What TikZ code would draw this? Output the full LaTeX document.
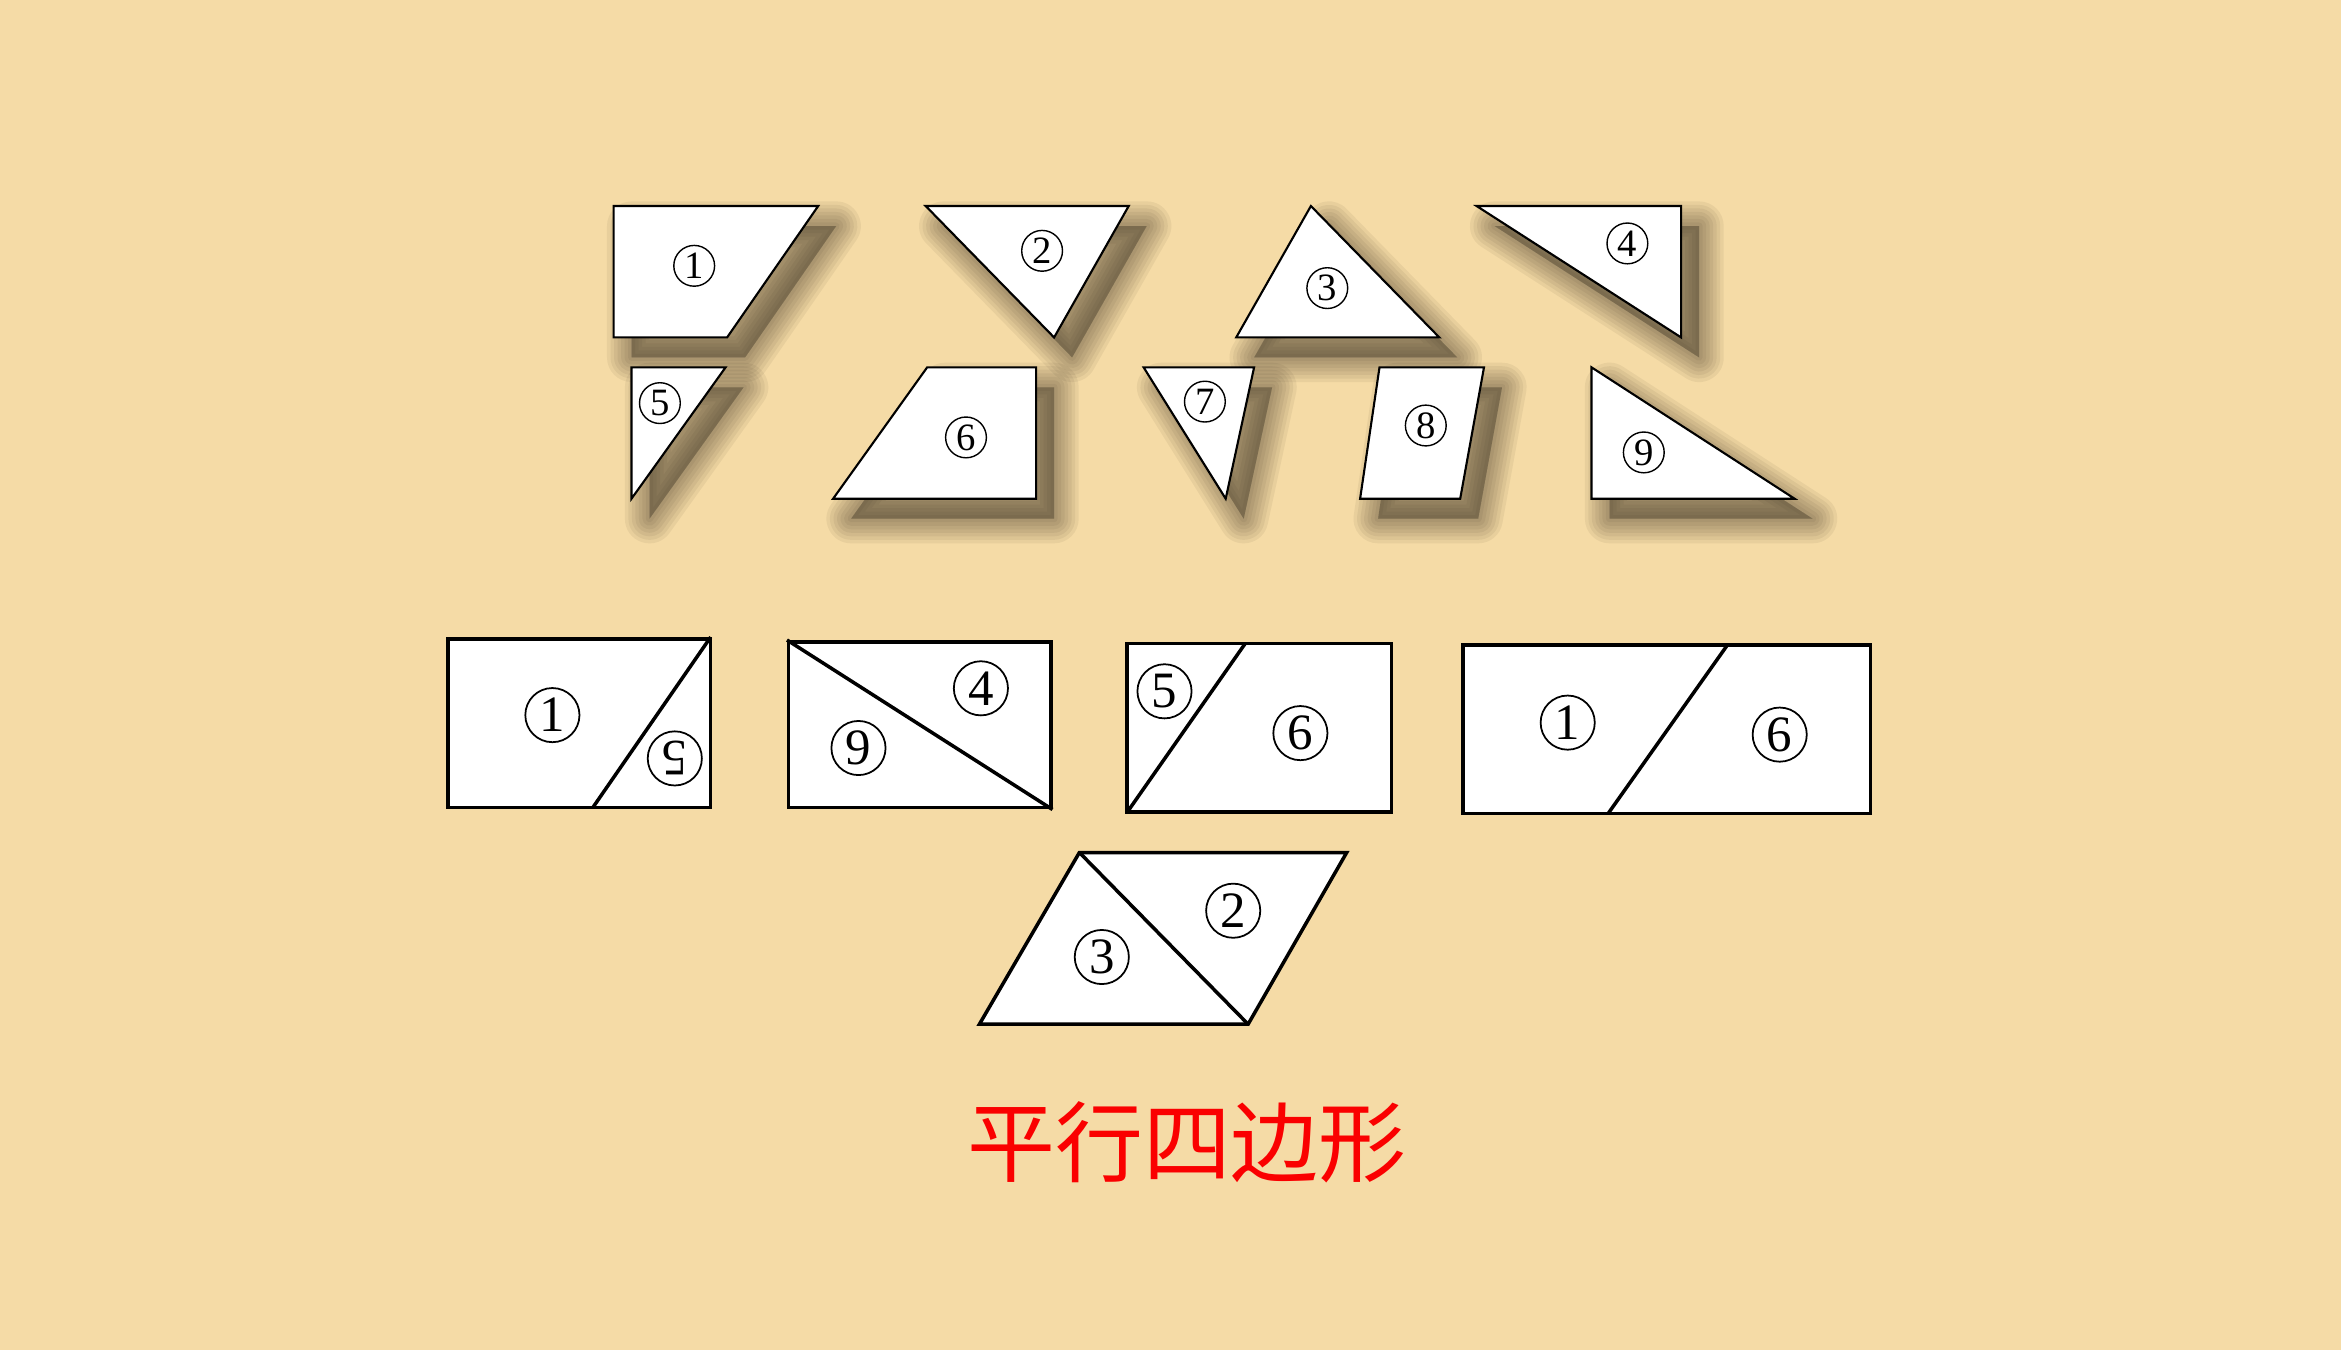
\documentclass[tikz,border=0pt]{standalone}
\usepackage{fontspec}
\setmainfont{Liberation Serif}
\newfontfamily\cjk{Noto Sans CJK SC}
\definecolor{bgc}{RGB}{245,219,166}
\definecolor{shadowc}{RGB}{55,45,30}
\definecolor{titlered}{RGB}{250,0,0}
\tikzset{
  piece/.style={fill=white,draw=black,line width=0.6pt,line join=miter},
  bigpiece/.style={fill=white,draw=black,line width=1pt,line join=miter},
  cut/.style={draw=black,line width=1pt},
  numsmall/.style={circle,draw,line width=0.4pt,minimum size=11.6pt,inner sep=0pt,font=\fontsize{11}{11}\selectfont},
  numbig/.style={circle,draw,line width=0.5pt,minimum size=15.4pt,inner sep=0pt,font=\fontsize{14.5}{14.5}\selectfont},
}
\newcommand\shadowpiece[1]{%
  \begin{scope}[shift={(18,20)}]
    \foreach \w in {14pt,12pt,10pt,8pt,6pt,4pt,2pt}{\filldraw[shadowc,opacity=0.065,line width=\w,line join=round] #1 -- cycle;}
  \end{scope}
  \filldraw[piece] #1 -- cycle;
}
\begin{document}
\begin{tikzpicture}[x=0.01cm,y=-0.01cm]
\useasboundingbox (0,0) rectangle (2341,1350);
\fill[bgc] (0,0) rectangle (2341,1350);
% ---------- top row ----------
\shadowpiece{(613.6,206) -- (818.2,206) -- (727.1,337.4) -- (613.6,337.4)}
\node[numsmall] (n1) at (694.2,265.8) {1};
\shadowpiece{(925.7,206) -- (1128.7,206) -- (1054.1,337.4)}
\node[numsmall] (n2) at (1042.1,250.8) {2};
\shadowpiece{(1310.9,206) -- (1439.3,337.4) -- (1236.2,337.4)}
\node[numsmall] (n3) at (1327.3,288.1) {3};
\shadowpiece{(1476.6,206) -- (1681.1,206) -- (1681.1,337.4)}
\node[numsmall] (n4) at (1627.4,243.4) {4};
% ---------- second row ----------
\shadowpiece{(631.5,367.3) -- (725.6,367.3) -- (631.5,498.7)}
\node[numsmall] (n5) at (659.9,403.1) {5};
\shadowpiece{(927.2,367.3) -- (1036.1,367.3) -- (1036.1,498.7) -- (833.1,498.7)}
\node[numsmall] (n6) at (966,437.4) {6};
\shadowpiece{(1143.6,367.3) -- (1254.1,367.3) -- (1225.7,498.7)}
\node[numsmall] (n7) at (1204.9,401.6) {7};
\shadowpiece{(1379.5,367.3) -- (1484,367.3) -- (1460.2,498.7) -- (1360.1,498.7)}
\node[numsmall] (n8) at (1425.8,425.5) {8};
\shadowpiece{(1591.5,367.3) -- (1794.6,498.7) -- (1591.5,498.7)}
\node[numsmall] (n9) at (1643.8,452.4) {9};
% ---------- combinations ----------
% A: 1 + 5
\filldraw[bigpiece] (447.9,639) rectangle (710.7,807.7);
\coordinate (a1) at (710.7,637);
\coordinate (a2) at (592.7,807.7);
\draw[cut] (a1) -- (a2);
\node[numbig] (A1) at (552.4,715.1) {1};
\node[numbig,rotate=180] (A5) at (674.8,758.4) {5};
% B: 9 + 4
\filldraw[bigpiece] (788.3,642) rectangle (1051.1,807.7);
\coordinate (b1) at (787,640);
\coordinate (b2) at (1052.5,809.5);
\draw[cut] (b1) -- (b2);
\node[numbig] (B4) at (980.9,688.3) {4};
\node[numbig] (B9) at (858.5,748) {9};
% C: 5 + 6
\filldraw[bigpiece] (1127.2,643.5) rectangle (1391.5,812.2);
\coordinate (c1) at (1245.2,643.5);
\coordinate (c2) at (1127.2,812.2);
\draw[cut] (c1) -- (c2);
\node[numbig] (C5) at (1164.5,691.3) {5};
\node[numbig] (C6) at (1300.4,733.1) {6};
% D: 1 + 6
\filldraw[bigpiece] (1463.1,645) rectangle (1870.7,813.7);
\coordinate (d1) at (1727.4,645);
\coordinate (d2) at (1608,813.7);
\draw[cut] (d1) -- (d2);
\node[numbig] (D1) at (1567.7,722.6) {1};
\node[numbig] (D6) at (1779.7,734.6) {6};
% E: 3 + 2
\filldraw[bigpiece] (1079.4,852.5) -- (1346.7,852.5) -- (1248.1,1024.2) -- (979.4,1024.2) -- cycle;
\coordinate (e1) at (1079.4,852.5);
\coordinate (e2) at (1248.1,1024.2);
\draw[cut] (e1) -- (e2);
\node[numbig] (E2) at (1233.2,910.7) {2};
\node[numbig] (E3) at (1101.8,957) {3};
% ---------- title ----------
\node[text=titlered,font=\cjk\fontsize{25}{25}\selectfont,inner sep=0pt] (title) at (1187,1142) {平行四边形};
\end{tikzpicture}
\end{document}
